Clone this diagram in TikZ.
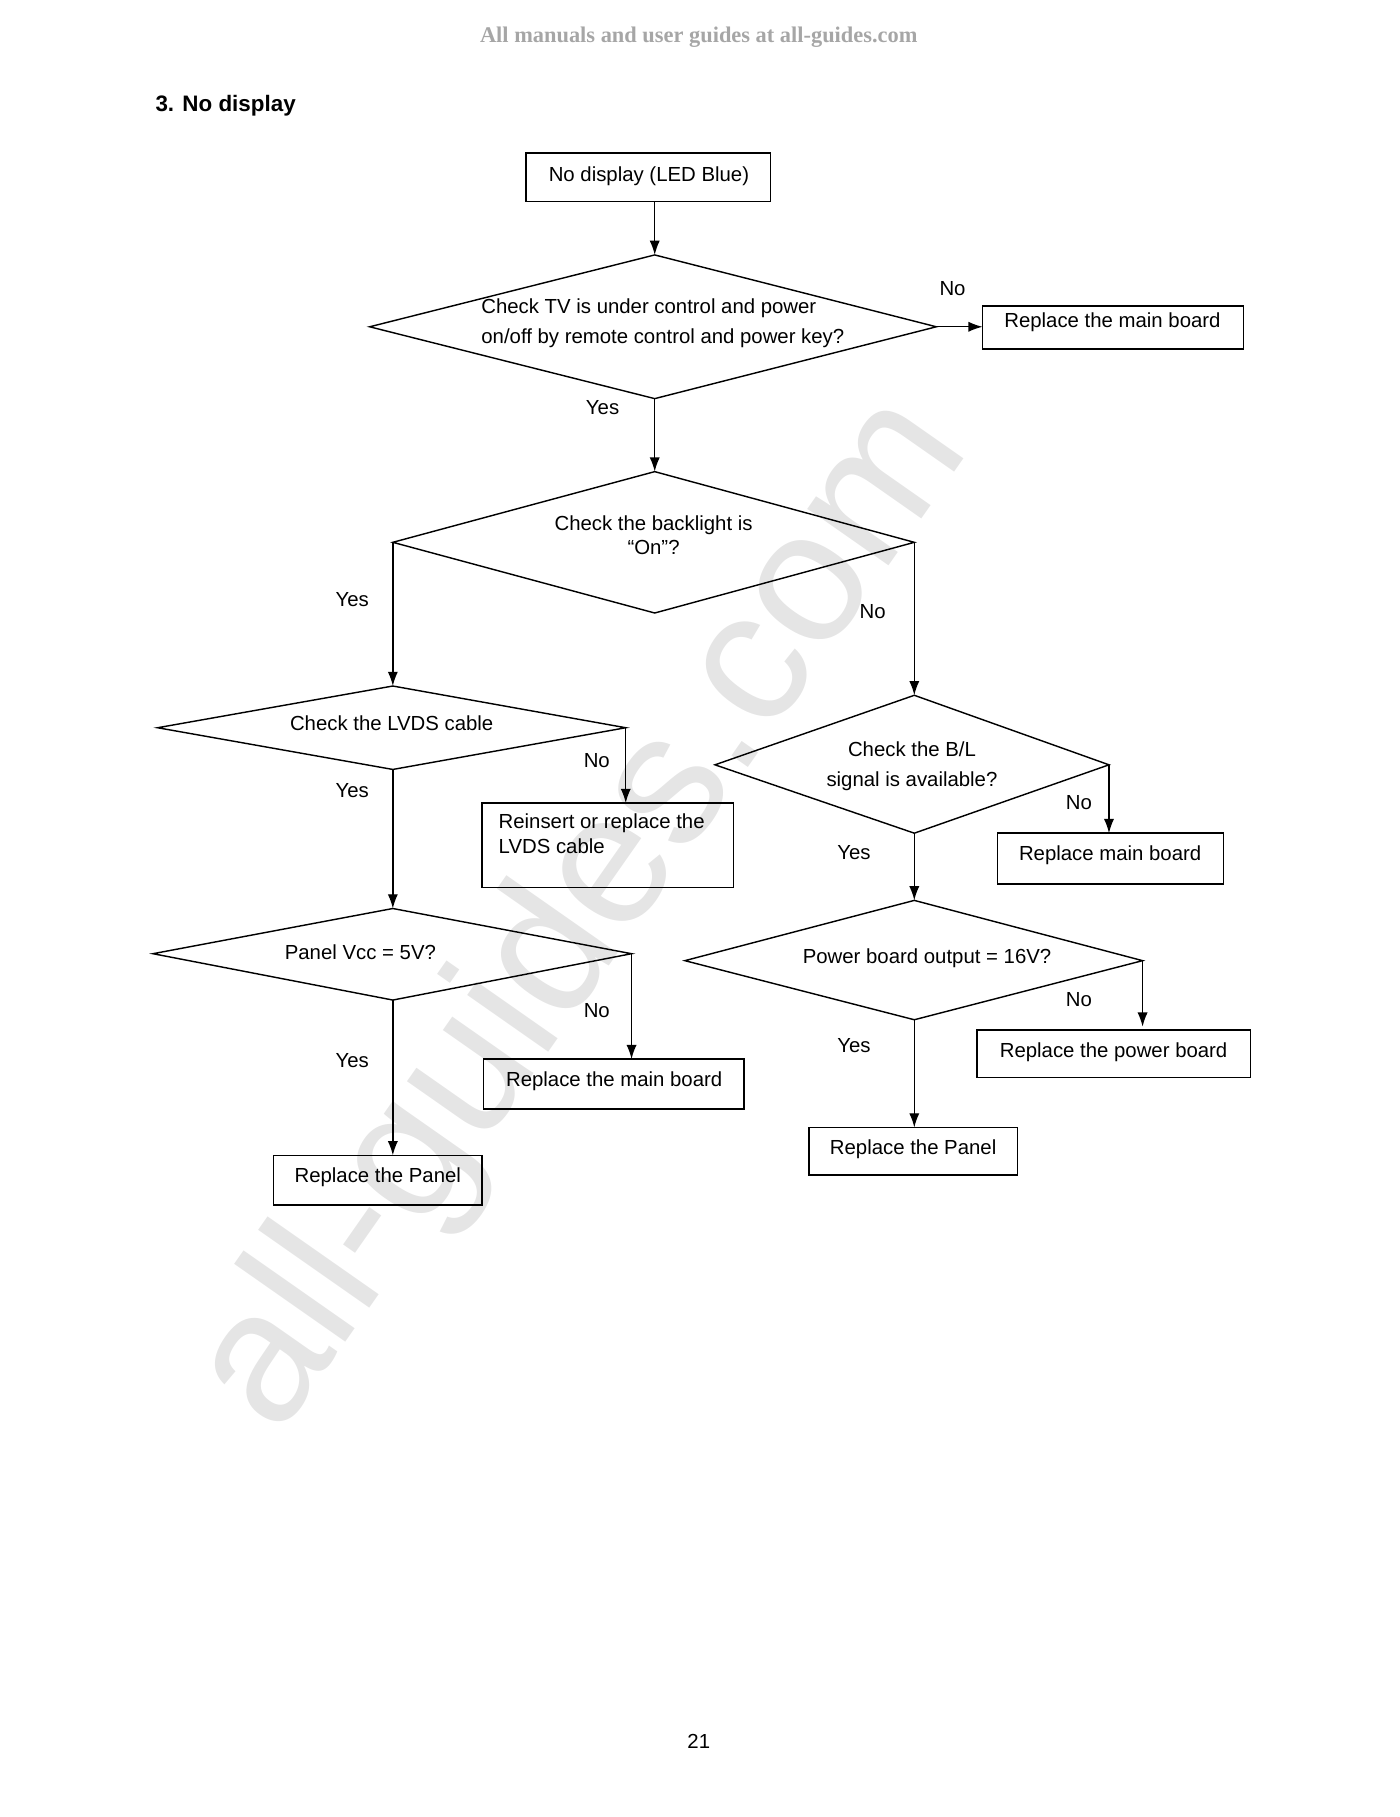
\documentclass[tikz,border=0pt]{standalone}
\usepackage{fontspec}
\setmainfont{Liberation Sans}
\newfontfamily\headfont{Liberation Serif}
\usetikzlibrary{arrows.meta}
\tikzset{
  lbl/.style={font=\fontsize{10}{12}\selectfont},
  wide/.style={font=\fontsize{10}{14.5}\selectfont},
  flow/.style={line width=0.7pt, -{Latex[length=7pt,width=5pt]}},
  dia/.style={line width=0.7pt}
}
\begin{document}
\begin{tikzpicture}[x=0.02cm, y=-0.02cm, lbl]
\useasboundingbox (0,0) rectangle (1208,1568);
% watermark and header
\node[text=black!10, rotate=55, font=\fontsize{92}{92}\selectfont] (wm) at (505,790) {all-guides.com};
\node[text=black!35, font=\headfont\bfseries\fontsize{11}{13}\selectfont] (head) at (603,32) {All manuals and user guides at all-guides.com};
\node[anchor=west, font=\bfseries\fontsize{11}{13}\selectfont] (title) at (128,91) {3. No display};
\node (page) at (603,1503) {21};

% boxes
\draw[dia] (454,132) rectangle (665,174);
\node (start) at (560,152) {No display (LED Blue)};
\draw[dia] (848,264) rectangle (1073,301);
\node (rmain1) at (960,278) {Replace the main board};
\draw[dia] (416,693) rectangle (633,766);
\node[anchor=north west, align=left, inner sep=0pt] (rlvds) at (430,702) {Reinsert or replace the\\LVDS cable};
\draw[dia] (417,914) rectangle (642,957);
\node (rmain2) at (530,933) {Replace the main board};
\draw[dia] (236,997) rectangle (416,1040);
\node (rpanel1) at (326,1016) {Replace the Panel};
\draw[dia] (861,719) rectangle (1056,763);
\node (rmain3) at (958,738) {Replace main board};
\draw[dia] (843,889) rectangle (1079,930);
\node (rpower) at (961,908) {Replace the power board};
\draw[dia] (698,973) rectangle (878,1014);
\node (rpanel2) at (788,992) {Replace the Panel};

% decisions
\coordinate (d1t) at (565,220); \coordinate (d1l) at (319,282);
\coordinate (d1r) at (808,282); \coordinate (d1b) at (565,344);
\draw[dia] (d1t) -- (d1r) -- (d1b) -- (d1l) -- cycle;
\node[align=left, wide] (d1) at (572,279) {Check TV is under control and power\\on/off by remote control and power key?};

\coordinate (d2t) at (565,407); \coordinate (d2l) at (339,468);
\coordinate (d2r) at (789,468); \coordinate (d2b) at (565,529);
\draw[dia] (d2t) -- (d2r) -- (d2b) -- (d2l) -- cycle;
\node[align=center] (d2) at (564,462) {Check the backlight is\\``On''?};

\coordinate (d3t) at (339,592); \coordinate (d3l) at (136,628);
\coordinate (d3r) at (540,628); \coordinate (d3b) at (339,664);
\draw[dia] (d3t) -- (d3r) -- (d3b) -- (d3l) -- cycle;
\node (d3) at (338,624) {Check the LVDS cable};

\coordinate (d4t) at (339,784); \coordinate (d4l) at (132,823);
\coordinate (d4r) at (545,823); \coordinate (d4b) at (339,863);
\draw[dia] (d4t) -- (d4r) -- (d4b) -- (d4l) -- cycle;
\node (d4) at (311,822) {Panel Vcc = 5V?};

\coordinate (d5t) at (789,600); \coordinate (d5l) at (617,660);
\coordinate (d5r) at (957,660); \coordinate (d5b) at (789,719);
\draw[dia] (d5t) -- (d5r) -- (d5b) -- (d5l) -- cycle;
\node[align=center, wide] (d5) at (787,661) {Check the B/L\\signal is available?};

\coordinate (d6t) at (789,777); \coordinate (d6l) at (591,829);
\coordinate (d6r) at (986,829); \coordinate (d6b) at (789,880);
\draw[dia] (d6t) -- (d6r) -- (d6b) -- (d6l) -- cycle;
\node (d6) at (800,827) {Power board output = 16V?};

% connectors
\draw[flow] (565,174) -- (d1t);
\draw[flow] (d1r) -- (848,282);
\draw[flow] (d1b) -- (d2t);
\draw[flow] (d2l) -- (d3t);
\draw[flow] (d2r) -- (d5t);
\draw[flow] (d3r) -- (540,693);
\draw[flow] (d3b) -- (d4t);
\draw[flow] (d4r) -- (545,914);
\draw[flow] (d4b) -- (339,997);
\draw[flow] (d5r) -- (957,719);
\draw[flow] (d5b) -- (d6t);
\draw[flow] (d6r) -- (986,886);
\draw[flow] (d6b) -- (789,973);

% answers
\node (n1) at (822,249) {No};
\node (y1) at (520,352) {Yes};
\node (y2) at (304,517) {Yes};
\node (n2) at (753,528) {No};
\node (n3) at (515,656) {No};
\node (y3) at (304,682) {Yes};
\node (n4) at (515,872) {No};
\node (y4) at (304,915) {Yes};
\node (n5) at (931,693) {No};
\node (y5) at (737,736) {Yes};
\node (n6) at (931,863) {No};
\node (y6) at (737,902) {Yes};
\end{tikzpicture}
\end{document}
